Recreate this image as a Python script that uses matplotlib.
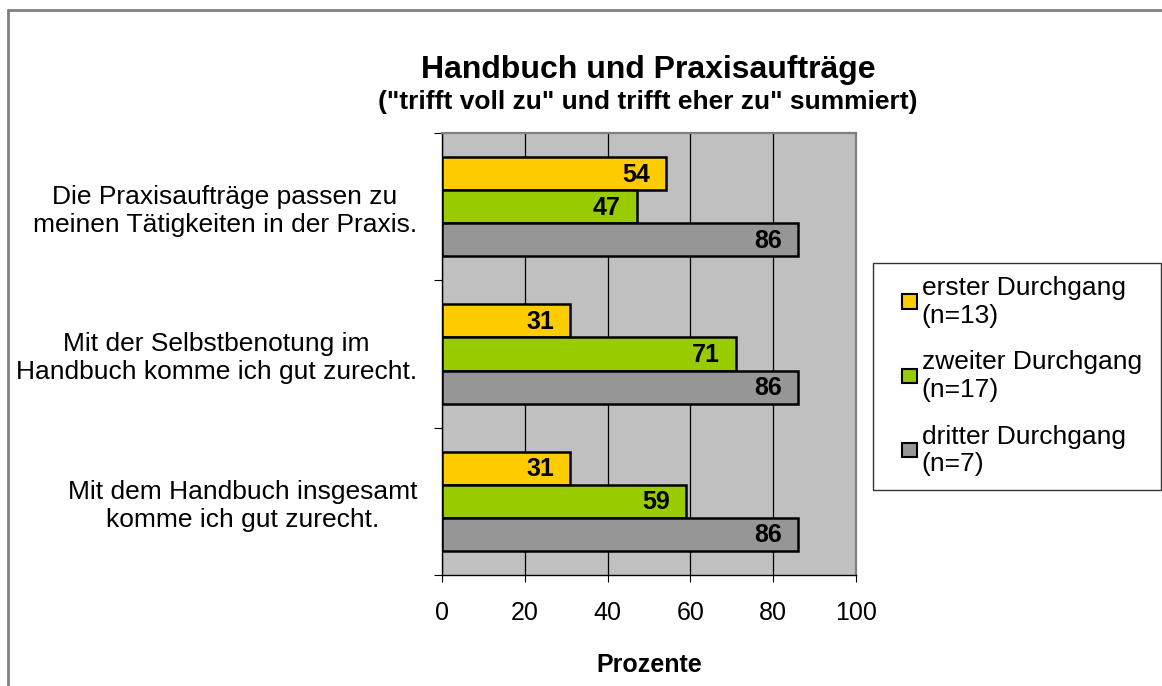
import matplotlib.pyplot as plt
from matplotlib.patches import Patch, Rectangle
from matplotlib.legend_handler import HandlerPatch
import numpy as np

plt.rcParams['font.family'] = ['Liberation Sans', 'DejaVu Sans']

# data
kategorien = ["Die Praxisaufträge passen zu\nmeinen Tätigkeiten in der Praxis.",
              "Mit der Selbstbenotung im\nHandbuch komme ich gut zurecht.",
              "Mit dem Handbuch insgesamt\nkomme ich gut zurecht."]
serien = ["erster Durchgang\n(n=13)", "zweiter Durchgang\n(n=17)", "dritter Durchgang\n(n=7)"]
erster = [54, 31, 31]
zweiter = [47, 71, 59]
dritter = [86, 86, 86]
farben = ["#FFCC00", "#99CC00", "#969696"]

fig = plt.figure(figsize=(11.62, 6.86), dpi=100)
ax = fig.add_axes([442/1162, 1-575/686, 414/1162, 442/686])
ax.set_facecolor("#C0C0C0")

# top category at top
pos = np.arange(len(kategorien))[::-1]
h = 0.224
for i, (werte, farbe) in enumerate(zip([erster, zweiter, dritter], farben)):
    y = pos + (1 - i) * h
    bars = ax.barh(y, werte, height=h, color=farbe, edgecolor="black", linewidth=1.8,
                   label=serien[i], zorder=3)
    for b, v in zip(bars, werte):
        ax.annotate(str(v), (v, b.get_y() + h/2), xytext=(-16, -1), textcoords="offset pixels",
                    ha="right", va="center", fontsize=18, fontweight="bold", zorder=4)

ax.set_xlim(0, 100)
ax.set_ylim(-0.5, 2.5)
ax.set_xticks([0, 20, 40, 60, 80, 100])
ax.tick_params(axis="x", labelsize=18, length=5, direction="out", pad=14)
ax.grid(axis="x", color="black", linewidth=0.9, zorder=1)
ax.set_xlabel("Prozente", fontsize=18, fontweight="bold", labelpad=20)

# y ticks at category boundaries, labels at centers
ax.set_yticks([-0.5, 0.5, 1.5, 2.5])
ax.set_yticklabels([])
ax.set_yticks(pos, minor=True)
ax.set_yticklabels(kategorien, minor=True, fontsize=19, multialignment="center", linespacing=1.2)
ax.tick_params(axis="y", which="major", length=6, direction="out")
ax.tick_params(axis="y", which="minor", length=0, pad=18)

for s in ["top", "right"]:
    ax.spines[s].set_color("#808080")
    ax.spines[s].set_linewidth(1.6)
for s in ["left", "bottom"]:
    ax.spines[s].set_color("black")
    ax.spines[s].set_linewidth(1.0)

fig.text(648/1162, 1-70/686, "Handbuch und Praxisaufträge", ha="center", va="center",
         fontsize=23, fontweight="bold")
fig.text(648/1162, 1-102/686, "(\"trifft voll zu\" und trifft eher zu\" summiert)", ha="center",
         va="center", fontsize=19, fontweight="bold")


def kaestchen(legend, orig_handle, xdescent, ydescent, width, height, fontsize):
    sq = 0.55 * fontsize
    return Rectangle((-xdescent + width - sq, -ydescent + height - sq - 0.5 * fontsize), sq, sq)


handles = [Patch(facecolor=f, edgecolor="black", linewidth=1.5) for f in farben]
leg = fig.legend(handles, serien, loc="upper left",
                 bbox_to_anchor=(873/1162, 1-485/686, 288/1162, 222/686), mode="expand",
                 fontsize=19, frameon=True, fancybox=False, edgecolor="black",
                 handlelength=1.15, handleheight=2.2, handletextpad=0.2, labelspacing=0.85,
                 borderpad=0.5, borderaxespad=0,
                 handler_map={Patch: HandlerPatch(patch_func=kaestchen)})
leg.get_frame().set_linewidth(1.0)
for t in leg.get_texts():
    t.set_linespacing(1.2)

fig.patches.append(Rectangle((8/1162, -0.1), 1.2, 1 - 10/686 + 0.1, transform=fig.transFigure,
                             fill=False, edgecolor="#808080", linewidth=2))

fig.savefig("out.png", dpi=100)
